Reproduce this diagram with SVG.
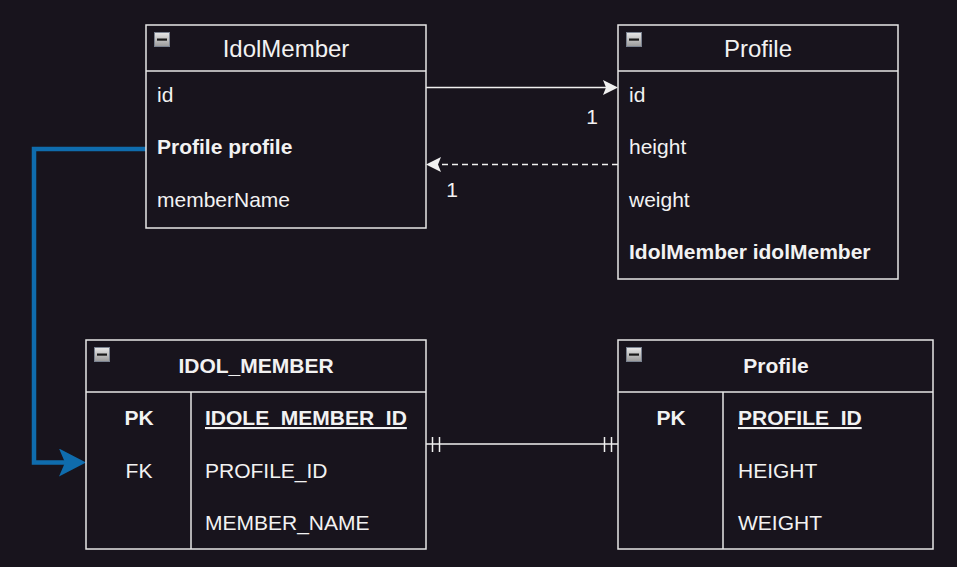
<svg xmlns="http://www.w3.org/2000/svg" xmlns:xlink="http://www.w3.org/1999/xlink" width="957" height="567" viewBox="0 0 957 567">
<style>
.box{fill:#18141d;stroke:#e6e6e6;stroke-width:1.5}
.sep{stroke:#e6e6e6;stroke-width:1.5;fill:none}
text{font-family:"Liberation Sans",Arial,Helvetica,sans-serif;fill:#f2f2f2;font-size:21px}
.title{font-size:24px;text-anchor:middle}
.ttl{font-weight:bold;text-anchor:middle}
.b{font-weight:bold}
.c{text-anchor:middle}
.u{text-decoration:underline}
.conn{stroke:#f0f0f0;stroke-width:1.5;fill:none}
</style>
<defs>
<linearGradient id="ig" x1="0" y1="0" x2="0" y2="1">
<stop offset="0" stop-color="#e8e8e8"/>
<stop offset="1" stop-color="#9a9a9a"/>
</linearGradient>
<g id="icon">
<rect x="0.5" y="0.5" width="15" height="14" fill="url(#ig)" stroke="#7a8290" stroke-width="1"/>
<rect x="3" y="6.5" width="10" height="2.2" fill="#1a1a1a"/>
</g>
<marker id="arrW" markerUnits="userSpaceOnUse" viewBox="0 0 15 15" refX="3" refY="7.5" markerWidth="15" markerHeight="15" orient="auto">
<path d="M15,7.5 L0,0 L3,7.5 L0,15 Z" fill="#f0f0f0"/>
</marker>
<marker id="arrB" markerUnits="userSpaceOnUse" viewBox="0 0 27 28" refX="6" refY="14" markerWidth="27" markerHeight="28" orient="auto">
<path d="M27,14 L0,0 L6,14 L0,28 Z" fill="#0f6cad"/>
</marker>
</defs>
<rect width="957" height="567" fill="#18141d"/>

<g id="connectors">
<path class="conn" d="M426,87.5 L606,87.5" marker-end="url(#arrW)"/>
<path class="conn" d="M618,164.5 L438,164.5" stroke-dasharray="6 4" marker-end="url(#arrW)"/>
<path d="M146,149 L34,149 L34,462.5 L65,462.5" fill="none" stroke="#0f6cad" stroke-width="4.5" marker-end="url(#arrB)"/>
<path class="conn" d="M426,444 L618,444 M432.5,437 L432.5,452 M439.5,437 L439.5,452 M604.5,437 L604.5,452 M611.5,437 L611.5,452"/>
<text x="592" y="124" class="c">1</text>
<text x="452" y="197" class="c">1</text>
</g>

<g id="IdolMember">
<rect class="box" x="146" y="25" width="280" height="203"/>
<line class="sep" x1="146" y1="71" x2="426" y2="71"/>
<use xlink:href="#icon" x="154" y="32"/>
<text x="286" y="57" class="title">IdolMember</text>
<text x="157" y="102">id</text>
<text x="157" y="154" class="b">Profile profile</text>
<text x="157" y="207">memberName</text>
</g>

<g id="Profile">
<rect class="box" x="618" y="25" width="280" height="254"/>
<line class="sep" x1="618" y1="71" x2="898" y2="71"/>
<use xlink:href="#icon" x="626" y="32"/>
<text x="758" y="57" class="title">Profile</text>
<text x="629" y="102">id</text>
<text x="629" y="154">height</text>
<text x="629" y="207">weight</text>
<text x="629" y="259" class="b">IdolMember idolMember</text>
</g>

<g id="IDOL_MEMBER">
<rect class="box" x="86" y="340" width="340" height="209"/>
<line class="sep" x1="86" y1="392" x2="426" y2="392"/>
<line class="sep" x1="191" y1="392" x2="191" y2="549"/>
<use xlink:href="#icon" x="94" y="347"/>
<text x="256" y="373" class="ttl">IDOL_MEMBER</text>
<text x="139" y="425" class="ttl">PK</text>
<text x="139" y="478" class="c">FK</text>
<text x="205" y="425" class="b u">IDOLE_MEMBER_ID</text>
<text x="205" y="478">PROFILE_ID</text>
<text x="205" y="530">MEMBER_NAME</text>
</g>

<g id="Profile_table">
<rect class="box" x="618" y="340" width="315" height="209"/>
<line class="sep" x1="618" y1="392" x2="933" y2="392"/>
<line class="sep" x1="723" y1="392" x2="723" y2="549"/>
<use xlink:href="#icon" x="626" y="347"/>
<text x="776" y="373" class="ttl">Profile</text>
<text x="671" y="425" class="ttl">PK</text>
<text x="738" y="425" class="b u">PROFILE_ID</text>
<text x="738" y="478">HEIGHT</text>
<text x="738" y="530">WEIGHT</text>
</g>
</svg>
